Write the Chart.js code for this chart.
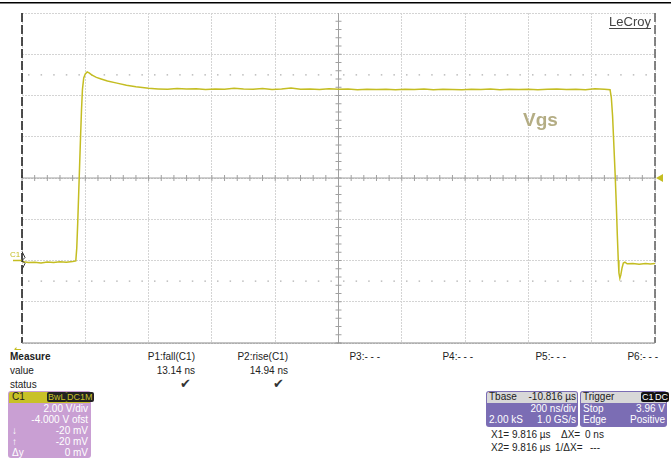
<!DOCTYPE html>
<html>
<head>
<meta charset="utf-8">
<script src="https://cdn.jsdelivr.net/npm/chart.js@4"></script>
<style>
  body { margin: 0; background: #fff; font-family: 'Liberation Sans', Arial, sans-serif; }
  #wrap { position: relative; width: 671px; height: 460px; overflow: hidden; }
  #scope { position: absolute; left: 0; top: 0; }
  .t { position: absolute; font-size: 10px; color: #222; white-space: nowrap; line-height: 12px; }
  .r { text-align: right; }
  .box { position: absolute; border-radius: 3px; }
</style>
</head>
<body>
<div id="wrap">
  <canvas id="scope" width="671" height="350"></canvas>
</div>
<script>
// time in ns (200 ns/div), voltage in V (2 V/div, -4 V offset)
const timeNs = [0, 20, 40, 60, 80, 100, 120, 140, 160, 170,
  173, 176, 179, 182, 185, 188, 191, 195, 200, 206, 212, 220, 235, 250, 270, 300, 330, 360, 400,
  430, 460, 490, 520, 550, 580, 610, 640, 670, 700, 730, 760, 790, 820, 850, 880, 910, 940, 970,
  1000, 1030, 1060, 1090, 1120, 1150, 1180, 1210, 1240, 1270, 1300, 1330, 1360, 1390, 1420, 1450,
  1480, 1510, 1540, 1570, 1600, 1630, 1660, 1690, 1720, 1750, 1780, 1810, 1840, 1858,
  1862, 1866, 1870, 1874, 1878, 1881, 1884, 1886, 1889, 1892, 1896, 1900, 1905, 1912, 1930, 1950, 1970, 1985, 2000]
const vgs = [-0.05, -0.1, -0.08, -0.12, -0.07, -0.1, -0.06, -0.09, -0.05, -0.02,
  0.6, 1.8, 3.2, 4.6, 6.0, 7.3, 8.3, 8.85, 9.05, 9.14, 9.1, 9.0, 8.88, 8.8, 8.7, 8.6, 8.5, 8.42, 8.35,
  8.32, 8.3, 8.34, 8.31, 8.33, 8.29, 8.32, 8.3, 8.35, 8.31, 8.3, 8.34, 8.29, 8.31, 8.36, 8.3, 8.32, 8.29, 8.33,
  8.3, 8.31, 8.28, 8.3, 8.29, 8.3, 8.28, 8.3, 8.29, 8.31, 8.28, 8.3, 8.29, 8.28, 8.3, 8.29,
  8.31, 8.28, 8.3, 8.29, 8.3, 8.28, 8.3, 8.31, 8.29, 8.3, 8.28, 8.33, 8.3, 8.28,
  7.9, 7.0, 5.6, 4.2, 2.6, 1.2, 0.0, -0.6, -0.86, -0.7, -0.35, -0.12, -0.08, -0.16, -0.15, -0.18, -0.15, -0.17, -0.14]

// measurement threshold levels (dotted)
const levelTop = 9
const levelBase = -1

const measureCols = ['P1:fall(C1)', 'P2:rise(C1)', 'P3:- - -', 'P4:- - -', 'P5:- - -', 'P6:- - -']
const measureVals = ['13.14 ns', '14.94 ns', '', '', '', '']
const measureOk = [true, true, false, false, false, false]

const traceColor = '#c4bd22'

const scopeDecor = {
  id: 'scopeDecor',
  beforeDatasetsDraw(chart) {
    const { ctx, chartArea: a, scales: { x, y } } = chart
    ctx.save()
    // center crosshair with minor ticks
    const cx = x.getPixelForValue(1000), cy = y.getPixelForValue(4)
    ctx.strokeStyle = '#a0a0a0'
    ctx.lineWidth = 1
    ctx.beginPath()
    ctx.moveTo(a.left, cy); ctx.lineTo(a.right, cy)
    ctx.moveTo(cx, a.top); ctx.lineTo(cx, a.bottom)
    for (let t = 0; t <= 2000; t += 40) {
      const px = x.getPixelForValue(t)
      ctx.moveTo(px, cy - 3); ctx.lineTo(px, cy + 3)
    }
    for (let v = -4; v <= 12; v += 0.4) {
      const py = y.getPixelForValue(v)
      ctx.moveTo(cx - 3, py); ctx.lineTo(cx + 3, py)
    }
    ctx.stroke()
    ctx.restore()
  },
  afterDraw(chart) {
    const { ctx, chartArea: a, scales: { y } } = chart
    ctx.save()
    // top rule
    ctx.fillStyle = '#000'
    ctx.fillRect(0, 2, 671, 1.5)
    // left frame dashed
    ctx.strokeStyle = '#222'
    ctx.lineWidth = 1.6
    ctx.setLineDash([9, 3])
    ctx.beginPath(); ctx.moveTo(a.left, a.top); ctx.lineTo(a.left, a.bottom); ctx.stroke()
    ctx.strokeStyle = '#666'
    ctx.beginPath(); ctx.moveTo(a.right, a.top); ctx.lineTo(a.right, a.bottom); ctx.stroke()
    ctx.setLineDash([])
    ctx.strokeStyle = '#888'
    ctx.lineWidth = 1
    ctx.beginPath(); ctx.moveTo(a.left, a.bottom); ctx.lineTo(a.right, a.bottom); ctx.stroke()
    // trigger level marker
    const ty = y.getPixelForValue(4)
    ctx.fillStyle = traceColor
    ctx.beginPath(); ctx.moveTo(a.right + 1, ty); ctx.lineTo(a.right + 8, ty - 4); ctx.lineTo(a.right + 8, ty + 4); ctx.fill()
    // ground marker C1
    const gy = y.getPixelForValue(0)
    ctx.strokeStyle = traceColor
    ctx.lineWidth = 1.5
    ctx.beginPath(); ctx.moveTo(13, gy); ctx.lineTo(a.left, gy); ctx.stroke()
    ctx.strokeStyle = '#333'
    ctx.lineWidth = 1
    ctx.beginPath()
    ctx.moveTo(a.left, gy - 9); ctx.lineTo(a.left + 3, gy - 3); ctx.lineTo(a.left, gy)
    ctx.lineTo(a.left + 3, gy + 3); ctx.lineTo(a.left, gy + 9)
    ctx.stroke()
    ctx.fillStyle = traceColor
    ctx.font = '8px "Liberation Sans", Arial'
    ctx.textAlign = 'left'
    ctx.fillText('C1', 10, gy - 4)
    // bottom-left arrow
    ctx.font = 'bold 9px "DejaVu Sans"'
    ctx.fillText('←', 14, a.bottom + 9)
    // labels
    ctx.fillStyle = '#b4ad84'
    ctx.font = 'bold 19px "Liberation Sans", Arial'
    ctx.fillText('Vgs', 523, 126)
    ctx.fillStyle = '#444'
    ctx.font = '13px "Liberation Sans", Arial'
    ctx.textAlign = 'right'
    ctx.fillText('LeCroy', 651, 26)
    const w = ctx.measureText('LeCroy').width
    ctx.fillRect(651 - w, 28, w, 1)
    ctx.restore()
  }
}

const data = {
  labels: timeNs,
  datasets: [{
    data: timeNs.map((t, i) => ({ x: t, y: vgs[i] })),
    borderColor: traceColor,
    borderWidth: 1.5,
    pointRadius: 0,
    tension: 0,
    order: 0
  }, {
    data: [{ x: 0, y: levelTop }, { x: 2000, y: levelTop }],
    borderColor: '#b0b0b0',
    borderWidth: 1.2,
    borderDash: [1.5, 11.1],
    borderDashOffset: -6,
    pointRadius: 0,
    order: 1
  }, {
    data: [{ x: 0, y: levelBase }, { x: 2000, y: levelBase }],
    borderColor: '#b0b0b0',
    borderWidth: 1.2,
    borderDash: [1.5, 11.1],
    borderDashOffset: -6,
    pointRadius: 0,
    order: 1
  }]
}

const config = {
  type: 'line',
  data: data,
  options: {
    responsive: false,
    animation: false,
    layout: { padding: { left: 22, right: 16, top: 13, bottom: 7 } },
    scales: {
      x: {
        type: 'linear', min: 0, max: 2000,
        ticks: { display: false, stepSize: 200 },
        grid: { color: '#d4d4d4', drawTicks: false, lineWidth: 1 },
        border: { display: false, dash: [2, 1] }
      },
      y: {
        min: -4, max: 12,
        ticks: { display: false, stepSize: 2 },
        grid: { color: '#d4d4d4', drawTicks: false, lineWidth: 1 },
        border: { display: false, dash: [2, 1] }
      }
    },
    plugins: {
      legend: { display: false },
      title: { display: false },
      tooltip: { enabled: false }
    }
  },
  plugins: [scopeDecor]
}

new Chart(document.getElementById('scope').getContext('2d'), config)

// readout panel below the grid
const wrap = document.getElementById('wrap')
const addText = (txt, x, y, opts = {}) => {
  const d = document.createElement('div')
  d.className = 't' + (opts.right ? ' r' : '')
  d.textContent = txt
  d.style.top = y + 'px'
  if (opts.right) { d.style.right = (671 - x) + 'px' } else { d.style.left = x + 'px' }
  if (opts.bold) d.style.fontWeight = 'bold'
  if (opts.color) d.style.color = opts.color
  if (opts.size) d.style.fontSize = opts.size + 'px'
  wrap.appendChild(d)
  return d
}

addText('Measure', 10, 351, { bold: true })
addText('value', 10, 365)
addText('status', 10, 379)
const colRight = [195, 288, 380, 473, 566, 658]
measureCols.forEach((c, i) => {
  addText(c, colRight[i], 351, { right: true })
  if (measureVals[i]) addText(measureVals[i], colRight[i], 365, { right: true })
  if (measureOk[i]) addText('✔', colRight[i] - 4, 378, { right: true, color: '#333', size: 13 })
})

const box = (x, y, w, h, bg) => {
  const b = document.createElement('div')
  b.className = 'box'
  Object.assign(b.style, { left: x + 'px', top: y + 'px', width: w + 'px', height: h + 'px', background: bg })
  wrap.appendChild(b)
  return b
}
const header = (x, y, w, bg) => {
  const h = document.createElement('div')
  Object.assign(h.style, { position: 'absolute', left: x + 'px', top: y + 'px', width: w + 'px', height: '11px', background: bg, borderRadius: '2px 2px 0 0' })
  wrap.appendChild(h)
}
const badge = (txt, x, y, bg, fg) => {
  const d = addText(txt, x, y)
  Object.assign(d.style, { background: bg, color: fg, fontSize: '9px', padding: '0 1px', lineHeight: '10px', borderRadius: '2px' })
}

// C1 channel box
box(8, 391, 83, 67, '#c99fd3')
header(9, 392, 81, '#c8c128')
addText('C1', 12, 391)
badge('BwL', 47, 392, '#222', '#c8c128')
badge('DC1M', 66, 392, '#222', '#c8c128')
const c1Rows = [['', '2.00 V/div'], ['', '-4.000 V ofst'], ['↓', '-20 mV'], ['↑', '-20 mV'], ['Δy', '0 mV']]
c1Rows.forEach((r, i) => {
  const yy = 403 + i * 11
  if (r[0]) addText(r[0], 12, yy, { color: '#fff' })
  addText(r[1], 88, yy, { right: true, color: '#fff' })
})

// Tbase box
box(486, 391, 92, 36, '#7b6db4')
header(487, 392, 90, '#d8d8d8')
addText('Tbase', 489, 391)
addText('-10.816 µs', 576, 391, { right: true })
addText('200 ns/div', 576, 403, { right: true, color: '#fff' })
addText('2.00 kS', 489, 414, { color: '#fff' })
addText('1.0 GS/s', 576, 414, { right: true, color: '#fff' })

// Trigger box
box(580, 391, 87, 36, '#7b6db4')
header(581, 392, 85, '#d8d8d8')
addText('Trigger', 583, 391)
badge('C1', 641, 392, '#111', '#fff')
badge('DC', 654, 392, '#111', '#fff')
addText('Stop', 583, 403, { color: '#fff' })
addText('3.96 V', 665, 403, { right: true, color: '#fff' })
addText('Edge', 583, 414, { color: '#fff' })
addText('Positive', 665, 414, { right: true, color: '#fff' })

// cursor readouts
addText('X1=', 491, 429)
addText('9.816 µs', 512, 429)
addText('ΔX=', 561, 429)
addText('0 ns', 585, 429)
addText('X2=', 491, 442)
addText('9.816 µs', 512, 442)
addText('1/ΔX=', 555, 442)
addText('---', 590, 442)
</script>
</body>
</html>
